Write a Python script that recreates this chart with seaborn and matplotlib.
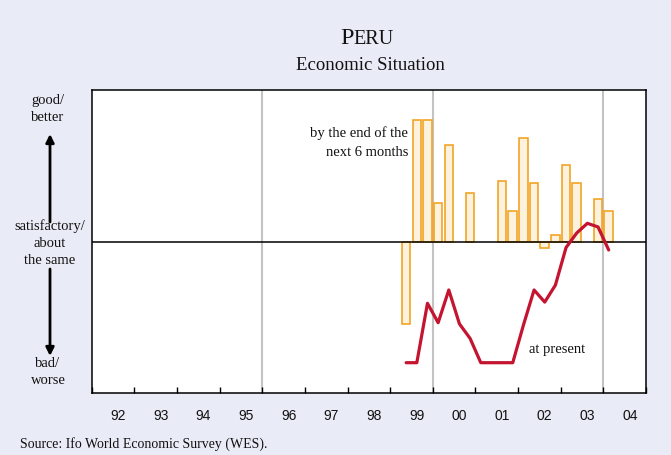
import matplotlib
matplotlib.use("Agg")
import matplotlib.pyplot as plt
import numpy as np
import pandas as pd
import seaborn as sns

# Quarterly Ifo WES survey results for Peru (balance, -100 .. +100)
quarters = ["1999Q2", "1999Q3", "1999Q4",
            "2000Q1", "2000Q2", "2000Q3", "2000Q4",
            "2001Q1", "2001Q2", "2001Q3", "2001Q4",
            "2002Q1", "2002Q2", "2002Q3", "2002Q4",
            "2003Q1", "2003Q2", "2003Q3", "2003Q4",
            "2004Q1"]
expectations = [-68, 100, 100,
                32, 80, 0, 40,
                0, 0, 50, 25,
                85, 48, -5, 5,
                63, 48, 0, 35,
                25]
present = [-100, -100, -51,
           -67, -40, -68, -80,
           -100, -100, -100, -100,
           -69, -40, -50, -36,
           -5, 7, 15, 12,
           -7]
year_labels = ["92", "93", "94", "95", "96", "97", "98",
               "99", "00", "01", "02", "03", "04"]
first_year = 1992

SERIF = "Liberation Serif"
SANS = "Liberation Sans"
BG = "#e9ecf6"
BAR_FACE = "#fcf2de"
BAR_EDGE = "#f2a526"
LINE = "#c4142f"

W, H = 671, 455


def fx(px):
    return px / W


def fy(py):
    return 1 - py / H


def quarter_mid(q):
    year, qn = int(q[:4]), int(q[-1])
    return year + (qn - 1) / 4 + 0.125


df = pd.DataFrame({
    "t": [quarter_mid(q) for q in quarters],
    "expectations": expectations,
    "present": present,
})

sns.set_theme(style="white")
plt.rcParams["font.family"] = [SERIF, "DejaVu Serif"]

fig = plt.figure(figsize=(W / 100, H / 100), dpi=100, facecolor=BG)
ax = fig.add_axes([fx(91.7), fy(393), fx(646) - fx(91.7), fy(90) - fy(393)])
ax.set_facecolor("white")

# reference year boundaries
for yr in (1996, 2000, 2004):
    ax.axvline(yr, color="#c3c3c3", lw=1.5, zorder=0.5)

# six-month expectations as bars (zero balances leave no bar)
bars = df[df["expectations"] != 0]
sns.barplot(data=bars, x="t", y="expectations", native_scale=True,
            width=0.8, color=BAR_FACE, saturation=1, errorbar=None,
            edgecolor=BAR_EDGE, linewidth=1.2, ax=ax, zorder=1)

ax.axhline(0, color="black", lw=1.1, zorder=2)

# present situation as a line
sns.lineplot(data=df, x="t", y="present", color=LINE, linewidth=2.3,
             ax=ax, zorder=3)

ax.set_xlim(first_year, first_year + len(year_labels))
ax.set_ylim(-125, 125)
ax.set_xlabel("")
ax.set_ylabel("")
ax.set_yticks([])

ax.set_xticks(np.arange(first_year, first_year + len(year_labels) + 1))
ax.set_xticklabels([])
ax.set_xticks(np.arange(first_year, first_year + len(year_labels)) + 0.62,
              minor=True)
ax.set_xticklabels(year_labels, minor=True, fontfamily=SANS, fontsize=10,
                   color="#111111")
ax.tick_params(axis="x", which="major", direction="in", length=4.5,
               width=1, color="black", bottom=True)
ax.tick_params(axis="x", which="minor", length=0, pad=11.5, bottom=True)

for s in ax.spines.values():
    s.set_color("black")
    s.set_linewidth(1.1)
    s.set_visible(True)

# title with small caps
fig.canvas.draw()
renderer = fig.canvas.get_renderer()
tP = fig.text(0, fy(44.3), "P", fontsize=17.5, family=SERIF, va="baseline",
              color="#111111")
tE = fig.text(0, fy(44.3), "ERU", fontsize=14.5, family=SERIF, va="baseline",
              color="#111111")
wP = tP.get_window_extent(renderer).width
wE = tE.get_window_extent(renderer).width
x0 = 366.7 - (wP + wE) / 2
tP.set_x(fx(x0))
tE.set_x(fx(x0 + wP))

fig.text(fx(370.8), fy(70), "Economic Situation", fontsize=13.5, family=SERIF,
         ha="center", va="baseline", color="#111111")

# scale descriptions on the left
lab = dict(fontsize=10.5, family=SERIF, ha="center", va="center",
           color="#111111", linespacing=1.4)
fig.text(fx(48), fy(109), "good/\nbetter", **lab)
fig.text(fx(50), fy(243), "satisfactory/\nabout\nthe same", **lab)
fig.text(fx(48), fy(372), "bad/\nworse", **lab)

arrow = dict(arrowstyle="-|>", lw=2, color="black", mutation_scale=12,
             shrinkA=0, shrinkB=0)
ax.annotate("", xy=(fx(50), fy(134)), xytext=(fx(50), fy(222)),
            xycoords="figure fraction", textcoords="figure fraction",
            arrowprops=arrow, annotation_clip=False)
ax.annotate("", xy=(fx(50), fy(356)), xytext=(fx(50), fy(269)),
            xycoords="figure fraction", textcoords="figure fraction",
            arrowprops=arrow, annotation_clip=False)

# series labels
fig.text(fx(408), fy(143), "by the end of the\nnext 6 months",
         fontsize=10.5, family=SERIF, ha="right", va="center",
         color="#111111", linespacing=1.6)
fig.text(fx(529), fy(350), "at present", fontsize=10.5, family=SERIF,
         ha="left", va="center", color="#111111")

fig.text(fx(20), fy(444), "Source: Ifo World Economic Survey (WES).",
         fontsize=10, family=SERIF, ha="left", va="center", color="#111111")

fig.savefig("out.png", dpi=100, facecolor=BG)
